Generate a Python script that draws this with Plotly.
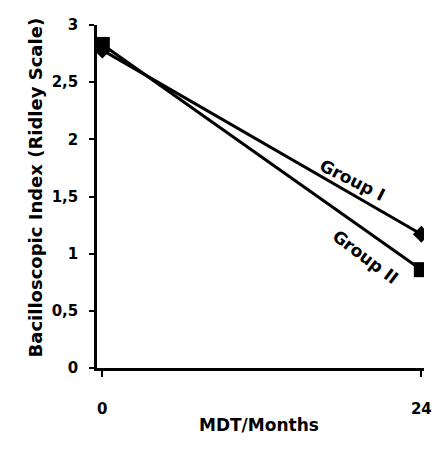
import plotly.graph_objects as go

months = [0, 24]
group1 = [2.78, 1.17]
group2 = [2.83, 0.86]
y_ticks = [0, 0.5, 1, 1.5, 2, 2.5, 3]
y_ticklabels = ["0", "0,5", "1", "1,5", "2", "2,5", "3"]
x_ticks = [0, 24]
x_ticklabels = ["0", "24"]

FONT = "DejaVu Sans, Liberation Sans, sans-serif"

def b(s):
    return "<b>" + s + "</b>"

fig = go.Figure()
fig.add_trace(go.Scatter(x=months, y=group1, mode="lines+markers", name="Group I",
                         line=dict(color="black", width=3),
                         marker=dict(symbol="diamond", size=13, color="black")))
fig.add_trace(go.Scatter(x=months, y=group2, mode="lines+markers", name="Group II",
                         line=dict(color="black", width=3),
                         marker=dict(symbol="square", size=15, color="black")))

fig.update_layout(
    width=442, height=459,
    margin=dict(l=97, r=10, t=25, b=91),
    plot_bgcolor="white", paper_bgcolor="white",
    showlegend=False,
    font=dict(family=FONT, color="black", size=15),
    xaxis=dict(range=[-0.4, 24.2], tickvals=x_ticks, ticktext=[b(t) for t in x_ticklabels],
               showgrid=False, zeroline=False, showline=True, linecolor="black",
               linewidth=2.5, ticks="outside", ticklen=6, tickwidth=2, tickcolor="black",
               ticklabelstandoff=19,
               tickfont=dict(family=FONT, size=15)),
    yaxis=dict(range=[0, 3], tickvals=y_ticks, ticktext=[b(t) for t in y_ticklabels],
               showgrid=False, zeroline=False, showline=True, linecolor="black",
               linewidth=2.5, ticks="outside", ticklen=5, tickwidth=2, tickcolor="black",
               ticklabelstandoff=8,
               tickfont=dict(family=FONT, size=15)),
    annotations=[
        dict(text=b("Bacilloscopic Index (Ridley Scale)"), xref="paper", yref="paper",
             x=0, y=0.525, xshift=-74, textangle=-90, showarrow=False,
             font=dict(family=FONT, size=18)),
        dict(text=b("MDT/Months"), xref="paper", yref="paper", x=0.495, y=0,
             yshift=-57, showarrow=False, yanchor="middle",
             font=dict(family=FONT, size=17)),
        dict(text=b("Group I"), x=18.8, y=1.64, textangle=27, showarrow=False,
             font=dict(family=FONT, size=17)),
        dict(text=b("Group II"), x=19.8, y=0.97, textangle=37, showarrow=False,
             font=dict(family=FONT, size=17)),
    ],
)

fig.write_html("out.html")
